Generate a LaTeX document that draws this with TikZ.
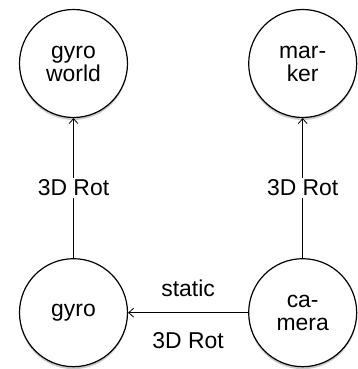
\documentclass[tikz,border=0pt]{standalone}
\usepackage{fontspec}
\setmainfont{Liberation Sans}
\usetikzlibrary{arrows.meta,positioning,shadows}

\begin{document}
\begin{tikzpicture}[
  frame/.style={draw, circle, line width=1.2pt, fill=white, minimum size=108bp, inner sep=0pt, align=center,
    font=\fontsize{23}{23}\selectfont,
    drop shadow={shadow xshift=0pt, shadow yshift=-2.5pt, fill=black!35, opacity=0.6}},
  rel/.style={-{Straight Barb[length=5pt,width=9pt]}, line width=0.8pt},
  lbl/.style={font=\fontsize{23}{23}\selectfont, fill=white, inner sep=2pt}]
\useasboundingbox (-73.5bp,63.5bp) rectangle (284.5bp,-305.5bp);

% gyro world
\node[frame] (gyroworld) at (0,0) {gyro\\world};

% marker
\node[frame, right=120bp of gyroworld] (marker) {mar-\\ker};

% gyro
\node[frame, below=140bp of gyroworld] (gyro) {gyro};

% camera
\node[frame, right=120bp of gyro] (camera) {ca-\\mera};

% relations
\draw[rel] (gyro) -- node[lbl] {3D Rot} (gyroworld);
\draw[rel] (camera) -- node[lbl] {3D Rot} (marker);
\draw[rel] (camera) -- node[lbl, above=14bp] {static} node[lbl, below=17bp] {3D Rot} (gyro);
\end{tikzpicture}
\end{document}
